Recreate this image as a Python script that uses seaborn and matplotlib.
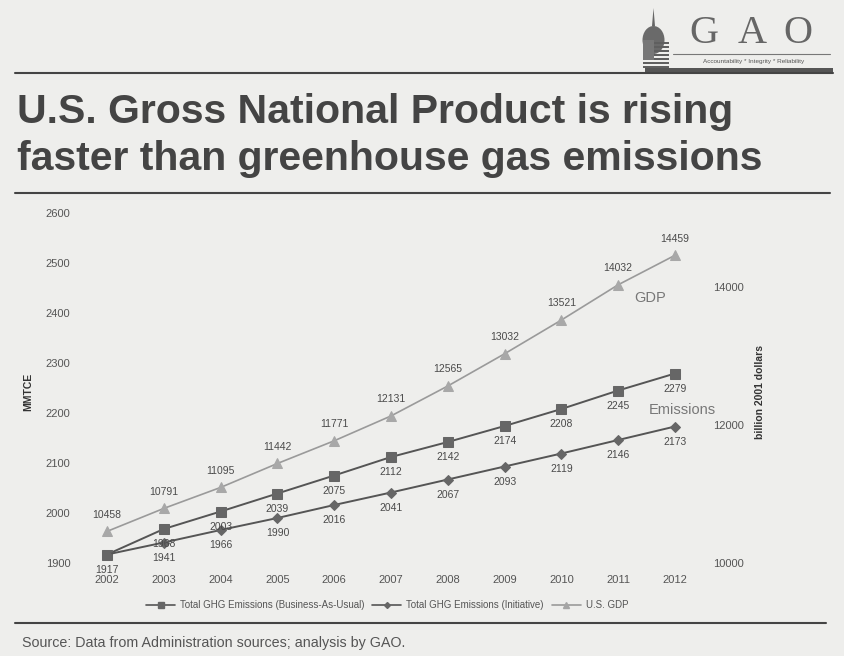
import matplotlib
matplotlib.use("Agg")
import matplotlib.pyplot as plt
import seaborn as sns
import pandas as pd
from matplotlib.lines import Line2D
from matplotlib.patches import Polygon, Rectangle, Ellipse

# ---------------- data ----------------
years = list(range(2002, 2013))
bau = [1917, 1968, 2003, 2039, 2075, 2112, 2142, 2174, 2208, 2245, 2279]
initiative = [1917, 1941, 1966, 1990, 2016, 2041, 2067, 2093, 2119, 2146, 2173]
gdp = [10458, 10791, 11095, 11442, 11771, 12131, 12565, 13032, 13521, 14032, 14459]
left_ticks = [1900, 2000, 2100, 2200, 2300, 2400, 2500, 2600]
right_ticks = [10000, 12000, 14000]
series_names = ["Total GHG Emissions (Business-As-Usual)",
                "Total GHG Emissions (Initiative)",
                "U.S. GDP"]
title_lines = ["U.S. Gross National Product is rising",
               "faster than greenhouse gas emissions"]
source_text = "Source: Data from Administration sources; analysis by GAO."

# ---------------- style ----------------
sns.set_style("white")
plt.rcParams["font.family"] = ["Liberation Sans", "DejaVu Sans"]

W, H = 844, 656
bg = "#eeeeec"
fig = plt.figure(figsize=(W / 100, H / 100), dpi=100)
fig.patch.set_facecolor(bg)


def fx(px):
    return px / W


def fy(py):
    return 1 - py / H


ax_l, ax_r, ax_t, ax_b = 80, 708, 213, 563
ax = fig.add_axes([fx(ax_l), fy(ax_b), (ax_r - ax_l) / W, (ax_b - ax_t) / H])
ax.set_facecolor("none")
ax2 = ax.twinx()

df = pd.DataFrame({"year": years, "bau": bau, "initiative": initiative, "gdp": gdp})

dark = "#555555"
light = "#9a9a9a"
sns.lineplot(data=df, x="year", y="bau", ax=ax, color=dark, lw=1.4,
             marker="s", markersize=7, markerfacecolor="#666666",
             markeredgecolor="#666666", legend=False)
sns.lineplot(data=df, x="year", y="initiative", ax=ax, color=dark, lw=1.4,
             marker="D", markersize=5, markerfacecolor="#666666",
             markeredgecolor="#666666", legend=False)
sns.lineplot(data=df, x="year", y="gdp", ax=ax2, color=light, lw=1.2,
             marker="^", markersize=7, markerfacecolor="#a8a8a8",
             markeredgecolor="#a8a8a8", legend=False)

ax.set_xlim(2002 - (107 - ax_l) / 56.8, 2012 + (ax_r - 675) / 56.8)
ax.set_ylim(1900, 2600)
ax2.set_ylim(10000, 15072)
ax.set_xticks(years)
ax.set_xticklabels([str(y) for y in years])
ax.set_yticks(left_ticks)
ax.set_yticklabels([str(v) for v in left_ticks])
ax2.set_yticks(right_ticks)
ax2.set_yticklabels([str(v) for v in right_ticks])
for a in (ax, ax2):
    a.set_xlabel("")
    a.set_ylabel("")
    for s in a.spines.values():
        s.set_visible(False)
    a.grid(False)
ax.tick_params(axis="y", length=0, pad=7, labelsize=8, labelcolor="#555555")
ax.tick_params(axis="x", length=0, pad=8.5, labelsize=8, labelcolor="#555555")
ax2.tick_params(axis="y", length=0, pad=4, labelsize=8, labelcolor="#555555")

lblc = "#4a4a4a"
for x, v in zip(years, bau):
    ax.annotate(str(v), (x, v), xytext=(0, -11), textcoords="offset points",
                ha="center", va="center", fontsize=7.5, color=lblc)
for x, v, b in zip(years, initiative, bau):
    if v == b:
        continue  # identical label already drawn at the same spot
    ax.annotate(str(v), (x, v), xytext=(0, -11), textcoords="offset points",
                ha="center", va="center", fontsize=7.5, color=lblc)
for x, v in zip(years, gdp):
    ax2.annotate(str(v), (x, v), xytext=(0, 12), textcoords="offset points",
                 ha="center", va="center", fontsize=7.5, color=lblc)

ax.text(2011.28, 2429, "GDP", fontsize=10.5, color="#777777", ha="left", va="center")
ax.text(2011.54, 2206, "Emissions", fontsize=10.5, color="#777777", ha="left", va="center")

fig.text(fx(28), fy(392), "MMTCE", rotation=90, fontsize=7.5, fontweight="bold",
         color="#333333", ha="center", va="center")
fig.text(fx(760), fy(392), "billion 2001 dollars", rotation=90, fontsize=7.5,
         fontweight="bold", color="#333333", ha="center", va="center")

# legend
handles = [
    Line2D([], [], color=dark, lw=1.2, marker="s", markersize=4, markerfacecolor="#666666", markeredgecolor="#666666"),
    Line2D([], [], color=dark, lw=1.2, marker="D", markersize=3, markerfacecolor="#666666", markeredgecolor="#666666"),
    Line2D([], [], color=light, lw=1.2, marker="^", markersize=4, markerfacecolor="#a5a5a5", markeredgecolor="#a5a5a5"),
]
fig.legend(handles, series_names, loc="center", bbox_to_anchor=(fx(387), fy(605)),
           ncol=3, frameon=False, fontsize=7.0, handlelength=3.0, handletextpad=0.5,
           columnspacing=0.8, labelcolor="#555555")

# title
title_c = "#444444"
fig.text(fx(17), fy(123), title_lines[0], fontsize=29.5, fontweight="bold",
         color=title_c, ha="left", va="baseline")
fig.text(fx(17), fy(170), title_lines[1], fontsize=29.5, fontweight="bold",
         color=title_c, ha="left", va="baseline")

# rules
rule_c = "#444444"
fig.add_artist(Line2D([fx(15), fx(833)], [fy(73), fy(73)], color=rule_c, lw=1.5))
fig.add_artist(Line2D([fx(15), fx(830)], [fy(193), fy(193)], color=rule_c, lw=1.5))
fig.add_artist(Line2D([fx(15), fx(826)], [fy(623), fy(623)], color=rule_c, lw=1.5))

fig.text(fx(22), fy(647), source_text, fontsize=10.3, color="#555555",
         ha="left", va="baseline")

# GAO logo
logo_c = "#666666"
for ch, cx in zip("GAO", [704, 752, 798]):
    fig.text(fx(cx), fy(43), ch, fontsize=29, family="Liberation Serif",
             color=logo_c, ha="center", va="baseline")
fig.add_artist(Line2D([fx(673), fx(830)], [fy(54), fy(54)], color="#777777", lw=0.8))
fig.text(fx(754), fy(62), "Accountability * Integrity * Reliability", fontsize=4.6,
         color="#555555", ha="center", va="center")
fig.add_artist(Rectangle((fx(645), fy(73)), fx(833) - fx(645), fy(68) - fy(73),
                         transform=fig.transFigure, color="#555555", lw=0))
# capitol dome
fig.add_artist(Polygon([[fx(652), fy(26)], [fx(653.5), fy(8)], [fx(655), fy(26)]],
                       closed=True, transform=fig.transFigure, color="#666666", lw=0))
fig.add_artist(Ellipse((fx(653.5), fy(40)), fx(22) - fx(0), fy(0) - fy(28),
                       transform=fig.transFigure, color="#6a6a6a", lw=0))
for i, yy in enumerate(range(42, 68, 4)):
    fig.add_artist(Rectangle((fx(643), fy(yy + 2)), fx(26), fy(0) - fy(2),
                             transform=fig.transFigure, color="#5f5f5f", lw=0))
fig.add_artist(Rectangle((fx(643), fy(60)), fx(11), fy(0) - fy(20),
                         transform=fig.transFigure, color="#777777", lw=0))

fig.savefig("out.png", dpi=100, facecolor=bg)
